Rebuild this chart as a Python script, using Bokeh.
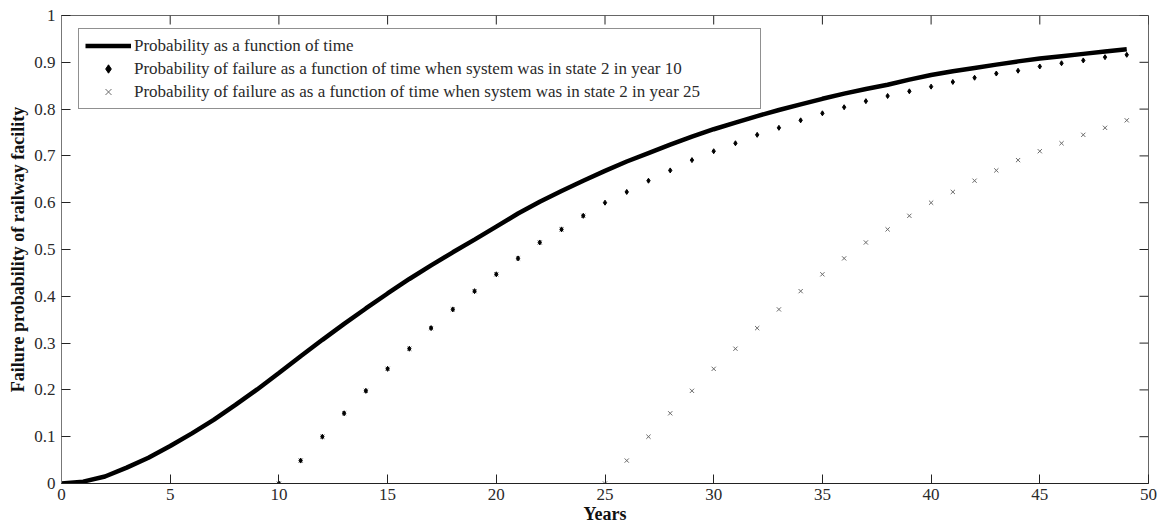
import math
from bokeh.plotting import figure
from bokeh.models import FixedTicker, Legend, LegendItem, ColumnDataSource
from bokeh.embed import file_html
from bokeh.resources import INLINE

# ---------------- data ----------------
years = list(range(0, 50))
prob_time = [0.000, 0.004, 0.015, 0.034, 0.055, 0.080, 0.107, 0.136, 0.168, 0.201,
             0.236, 0.272, 0.307, 0.341, 0.374, 0.406, 0.437, 0.466, 0.494, 0.521,
             0.549, 0.577, 0.602, 0.625, 0.647, 0.668, 0.688, 0.706, 0.724, 0.741,
             0.757, 0.771, 0.785, 0.798, 0.810, 0.822, 0.833, 0.843, 0.852, 0.863,
             0.873, 0.881, 0.888, 0.895, 0.902, 0.908, 0.913, 0.918, 0.923, 0.928]

years_state10 = list(range(10, 50))
prob_state10 = [0.000, 0.049, 0.100, 0.150, 0.198, 0.245, 0.288, 0.332, 0.372, 0.411,
                0.447, 0.481, 0.515, 0.543, 0.572, 0.600, 0.623, 0.647, 0.669, 0.691,
                0.710, 0.727, 0.745, 0.760, 0.776, 0.791, 0.804, 0.817, 0.828, 0.838,
                0.848, 0.858, 0.867, 0.876, 0.882, 0.891, 0.898, 0.904, 0.911, 0.916]

years_state25 = list(range(10, 50))
prob_state25 = [0.000, 0.049, 0.100, 0.150, 0.198, 0.245, 0.288, 0.332, 0.372, 0.411,
                0.447, 0.481, 0.515, 0.543, 0.572,
                0.000, 0.049, 0.100, 0.150, 0.198, 0.245, 0.288, 0.332, 0.372, 0.411,
                0.447, 0.481, 0.515, 0.543, 0.572, 0.600, 0.623, 0.647, 0.669, 0.691,
                0.710, 0.727, 0.745, 0.760, 0.776]

x_ticks = [0, 5, 10, 15, 20, 25, 30, 35, 40, 45, 50]
y_ticks = [0, 0.1, 0.2, 0.3, 0.4, 0.5, 0.6, 0.7, 0.8, 0.9, 1]
y_tick_labels = ["0", "0.1", "0.2", "0.3", "0.4", "0.5", "0.6", "0.7", "0.8", "0.9", "1"]

labels = ["Probability as a function of time",
          "Probability of failure as a function of time when system was in state 2 in year 10",
          "Probability of failure as as a function of time when system was in state 2 in year 25"]

FONT = "Liberation Serif"
TXT = "#2a2a2a"

p = figure(width=1159, height=527, x_range=(0, 50), y_range=(0, 1),
           output_backend="svg", toolbar_location=None,
           min_border_left=61, min_border_right=11, min_border_top=15, min_border_bottom=44)

p.background_fill_color = "white"
p.border_fill_color = "white"
p.outline_line_color = "#666666"
p.outline_line_width = 1
p.xgrid.visible = False
p.ygrid.visible = False

# main axes
for ax in (p.xaxis[0], p.yaxis[0]):
    ax.major_tick_in = 9
    ax.major_tick_out = 0
    ax.minor_tick_in = 0
    ax.minor_tick_out = 0
    ax.major_tick_line_color = "#222222"
    ax.axis_line_color = "#222222"
    ax.major_label_text_font = FONT
    ax.major_label_text_font_size = "17px"
    ax.major_label_text_color = TXT
    ax.axis_label_text_font = FONT
    ax.axis_label_text_font_size = "18px"
    ax.axis_label_text_font_style = "bold"
    ax.axis_label_text_color = "#111111"

p.xaxis[0].ticker = FixedTicker(ticks=x_ticks)
p.yaxis[0].ticker = FixedTicker(ticks=y_ticks)
p.yaxis[0].major_label_overrides = {t: l for t, l in zip(y_ticks, y_tick_labels)}
p.xaxis[0].axis_label = "Years"
p.yaxis[0].axis_label = "Failure probability of railway facility"
p.xaxis[0].major_label_standoff = 5
p.yaxis[0].major_label_standoff = 6
p.xaxis[0].axis_label_standoff = 1
p.yaxis[0].axis_label_standoff = 3
p.yaxis[0].axis_line_color = "#777777"

# mirrored inward ticks on top and right edges
p.ray(x=x_ticks, y=y_ticks[-1], length=9, length_units="screen",
      angle=-math.pi / 2, line_color="#222222", line_width=1)
p.ray(x=x_ticks[-1], y=y_ticks, length=9, length_units="screen",
      angle=math.pi, line_color="#222222", line_width=1)

src_a = ColumnDataSource(dict(x=years, y=prob_time))
src_b = ColumnDataSource(dict(x=years_state10, y=prob_state10))
src_c = ColumnDataSource(dict(x=years_state25, y=prob_state25))

r1 = p.line("x", "y", source=src_a, line_color="black", line_width=4.5)
r3 = p.scatter("x", "y", source=src_c, marker="x", size=6, line_color="#6a6a6a", line_width=1)
r2 = p.scatter("x", "y", source=src_b, marker="diamond", size=5, fill_color="black", line_color="black")

legend = Legend(items=[LegendItem(label=labels[0], renderers=[r1]),
                       LegendItem(label=labels[1], renderers=[r2]),
                       LegendItem(label=labels[2], renderers=[r3])],
                location=(17, 374))
legend.margin = 0
legend.padding = 6
legend.spacing = 2
legend.glyph_width = 46
legend.glyph_height = 21
legend.label_height = 21
legend.label_width = 620
legend.label_standoff = 3
legend.label_text_font = FONT
legend.label_text_font_size = "17px"
legend.label_text_color = TXT
legend.border_line_color = "#222222"
legend.border_line_width = 1
legend.background_fill_alpha = 1
p.add_layout(legend)

open("out.html", "w").write(file_html(p, INLINE))
